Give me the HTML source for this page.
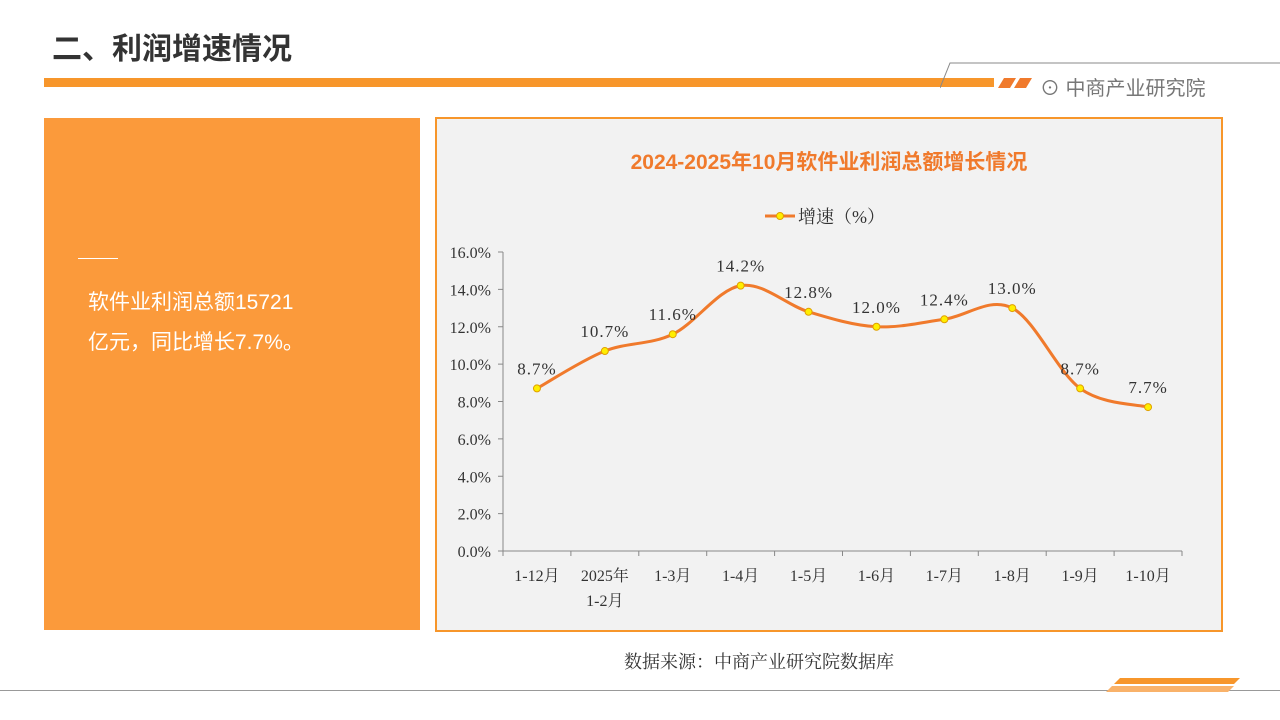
<!DOCTYPE html>
<html><head><meta charset="utf-8"><style>
body{margin:0;width:1280px;height:720px;background:#fff;position:relative;overflow:hidden;font-family:"Liberation Sans","Noto Sans CJK SC",sans-serif}
.abs{position:absolute}
</style></head><body>
<div class="abs" style="left:52px;top:24px;font-size:30px;font-weight:bold;color:#333">二、利润增速情况</div>
<div class="abs" style="left:44px;top:78px;width:950px;height:9px;background:#f7962b"></div>
<svg class="abs" style="left:940px;top:60px" width="340" height="32">
<polyline points="0,28 10,3 340,3" fill="none" stroke="#888" stroke-width="1"/>
<polygon points="64,18 76,18 70,28 58,28" fill="#f07a2c"/><polygon points="80,18 92,18 86,28 74,28" fill="#f07a2c"/>
</svg>
<div class="abs" style="left:1040px;top:72px;font-size:20px;color:#777">⊙ 中商产业研究院</div>
<div class="abs" style="left:44px;top:118px;width:376px;height:512px;background:#fb9a3b">
<div style="position:absolute;left:34px;top:140px;width:40px;height:1px;background:#fff"></div>
<div style="position:absolute;left:44px;top:165px;width:300px;font-size:21px;line-height:40px;color:#fff">软件业利润总额15721<br>亿元，同比增长7.7%。</div>
</div>
<div class="abs" style="left:435px;top:117px;width:784px;height:511px;border:2px solid #f7962b;background:#f2f2f2"></div>
<div class="abs" style="left:437px;top:146px;width:784px;text-align:center;font-size:21px;font-weight:bold;color:#f07a2c">2024-2025年10月软件业利润总额增长情况</div>
<svg class="abs" id="chart" style="left:0;top:0" width="1280" height="720"></svg>
<div class="abs" style="left:624px;top:648px;font-size:18px;color:#333;font-family:'Liberation Serif','Noto Serif CJK SC',serif">数据来源：中商产业研究院数据库</div>
<div class="abs" style="left:0;top:690px;width:1280px;height:1px;background:#999"></div>
<svg class="abs" style="left:1100px;top:676px" width="150" height="22">
<polygon points="20,2 140,2 134,8 14,8" fill="#f7962b"/><polygon points="12,10 134,10 128,16 6,16" fill="#f9b26a"/>
</svg>
<script>
const categories=["1-12月","2025年\n1-2月","1-3月","1-4月","1-5月","1-6月","1-7月","1-8月","1-9月","1-10月"];
const growth=[8.7,10.7,11.6,14.2,12.8,12.0,12.4,13.0,8.7,7.7];
const yTicks=[0,2,4,6,8,10,12,14,16];
const svg=document.getElementById('chart');const NS='http://www.w3.org/2000/svg';
const x0=503,x1=1182,yb=551,yt=252,ymax=16;
const step=(x1-x0)/categories.length;
const X=i=>x0+step*(i+0.5);const Y=v=>yb-(v/ymax)*(yb-yt);
function mk(t,a){const e=document.createElementNS(NS,t);for(const k in a)e.setAttribute(k,a[k]);svg.appendChild(e);return e;}
const serif="'Liberation Serif','Noto Serif CJK SC',serif";
let e=mk('line',{x1:x0,y1:yt,x2:x0,y2:yb,stroke:'#888'});

e=mk('line',{x1:x0,y1:yb,x2:x1,y2:yb,stroke:'#888'});

yTicks.forEach(v=>{mk('line',{x1:x0-5,y1:Y(v),x2:x0,y2:Y(v),stroke:'#888'});
const t=mk('text',{x:x0-12,y:Y(v)+6,'text-anchor':'end','font-size':16,'font-family':serif,fill:'#333'});t.textContent=v.toFixed(1)+'%';
});
for(let i=0;i<=categories.length;i++)mk('line',{x1:x0+step*i,y1:yb,x2:x0+step*i,y2:yb+5,stroke:'#888'});
categories.forEach((c,i)=>{c.split('\n').forEach((s,j)=>{const t=mk('text',{x:X(i),y:yb+30+j*25,'text-anchor':'middle','font-size':16,'font-family':serif,fill:'#333'});t.textContent=s;
});});
const P=growth.map((v,i)=>[X(i),Y(v)]);
let d='M'+P[0].join(',');
for(let i=0;i<P.length-1;i++){const p0=P[i-1]||P[i],p1=P[i],p2=P[i+1],p3=P[i+2]||p2;const k=6;
d+=` C${p1[0]+(p2[0]-p0[0])/k},${p1[1]+(p2[1]-p0[1])/k} ${p2[0]-(p3[0]-p1[0])/k},${p2[1]-(p3[1]-p1[1])/k} ${p2[0]},${p2[1]}`;}
e=mk('path',{d:d,fill:'none',stroke:'#f07a2c','stroke-width':3});

growth.forEach((v,i)=>{const c=mk('circle',{cx:X(i),cy:Y(v),r:3.5,fill:'#ffee00',stroke:'#e0a000','stroke-width':1});

const t=mk('text',{x:X(i),y:Y(v)-14,'text-anchor':'middle','font-size':17,'font-family':serif,fill:'#333','letter-spacing':1});t.textContent=v.toFixed(1)+'%';
});
e=mk('line',{x1:765,y1:216,x2:795,y2:216,stroke:'#f07a2c','stroke-width':3});

mk('circle',{cx:780,cy:216,r:3.5,fill:'#ffee00',stroke:'#e0a000'});
e=mk('text',{x:798,y:223,'font-size':18,'font-family':serif,fill:'#333'});e.textContent='增速（%）';

</script>
</body></html>
